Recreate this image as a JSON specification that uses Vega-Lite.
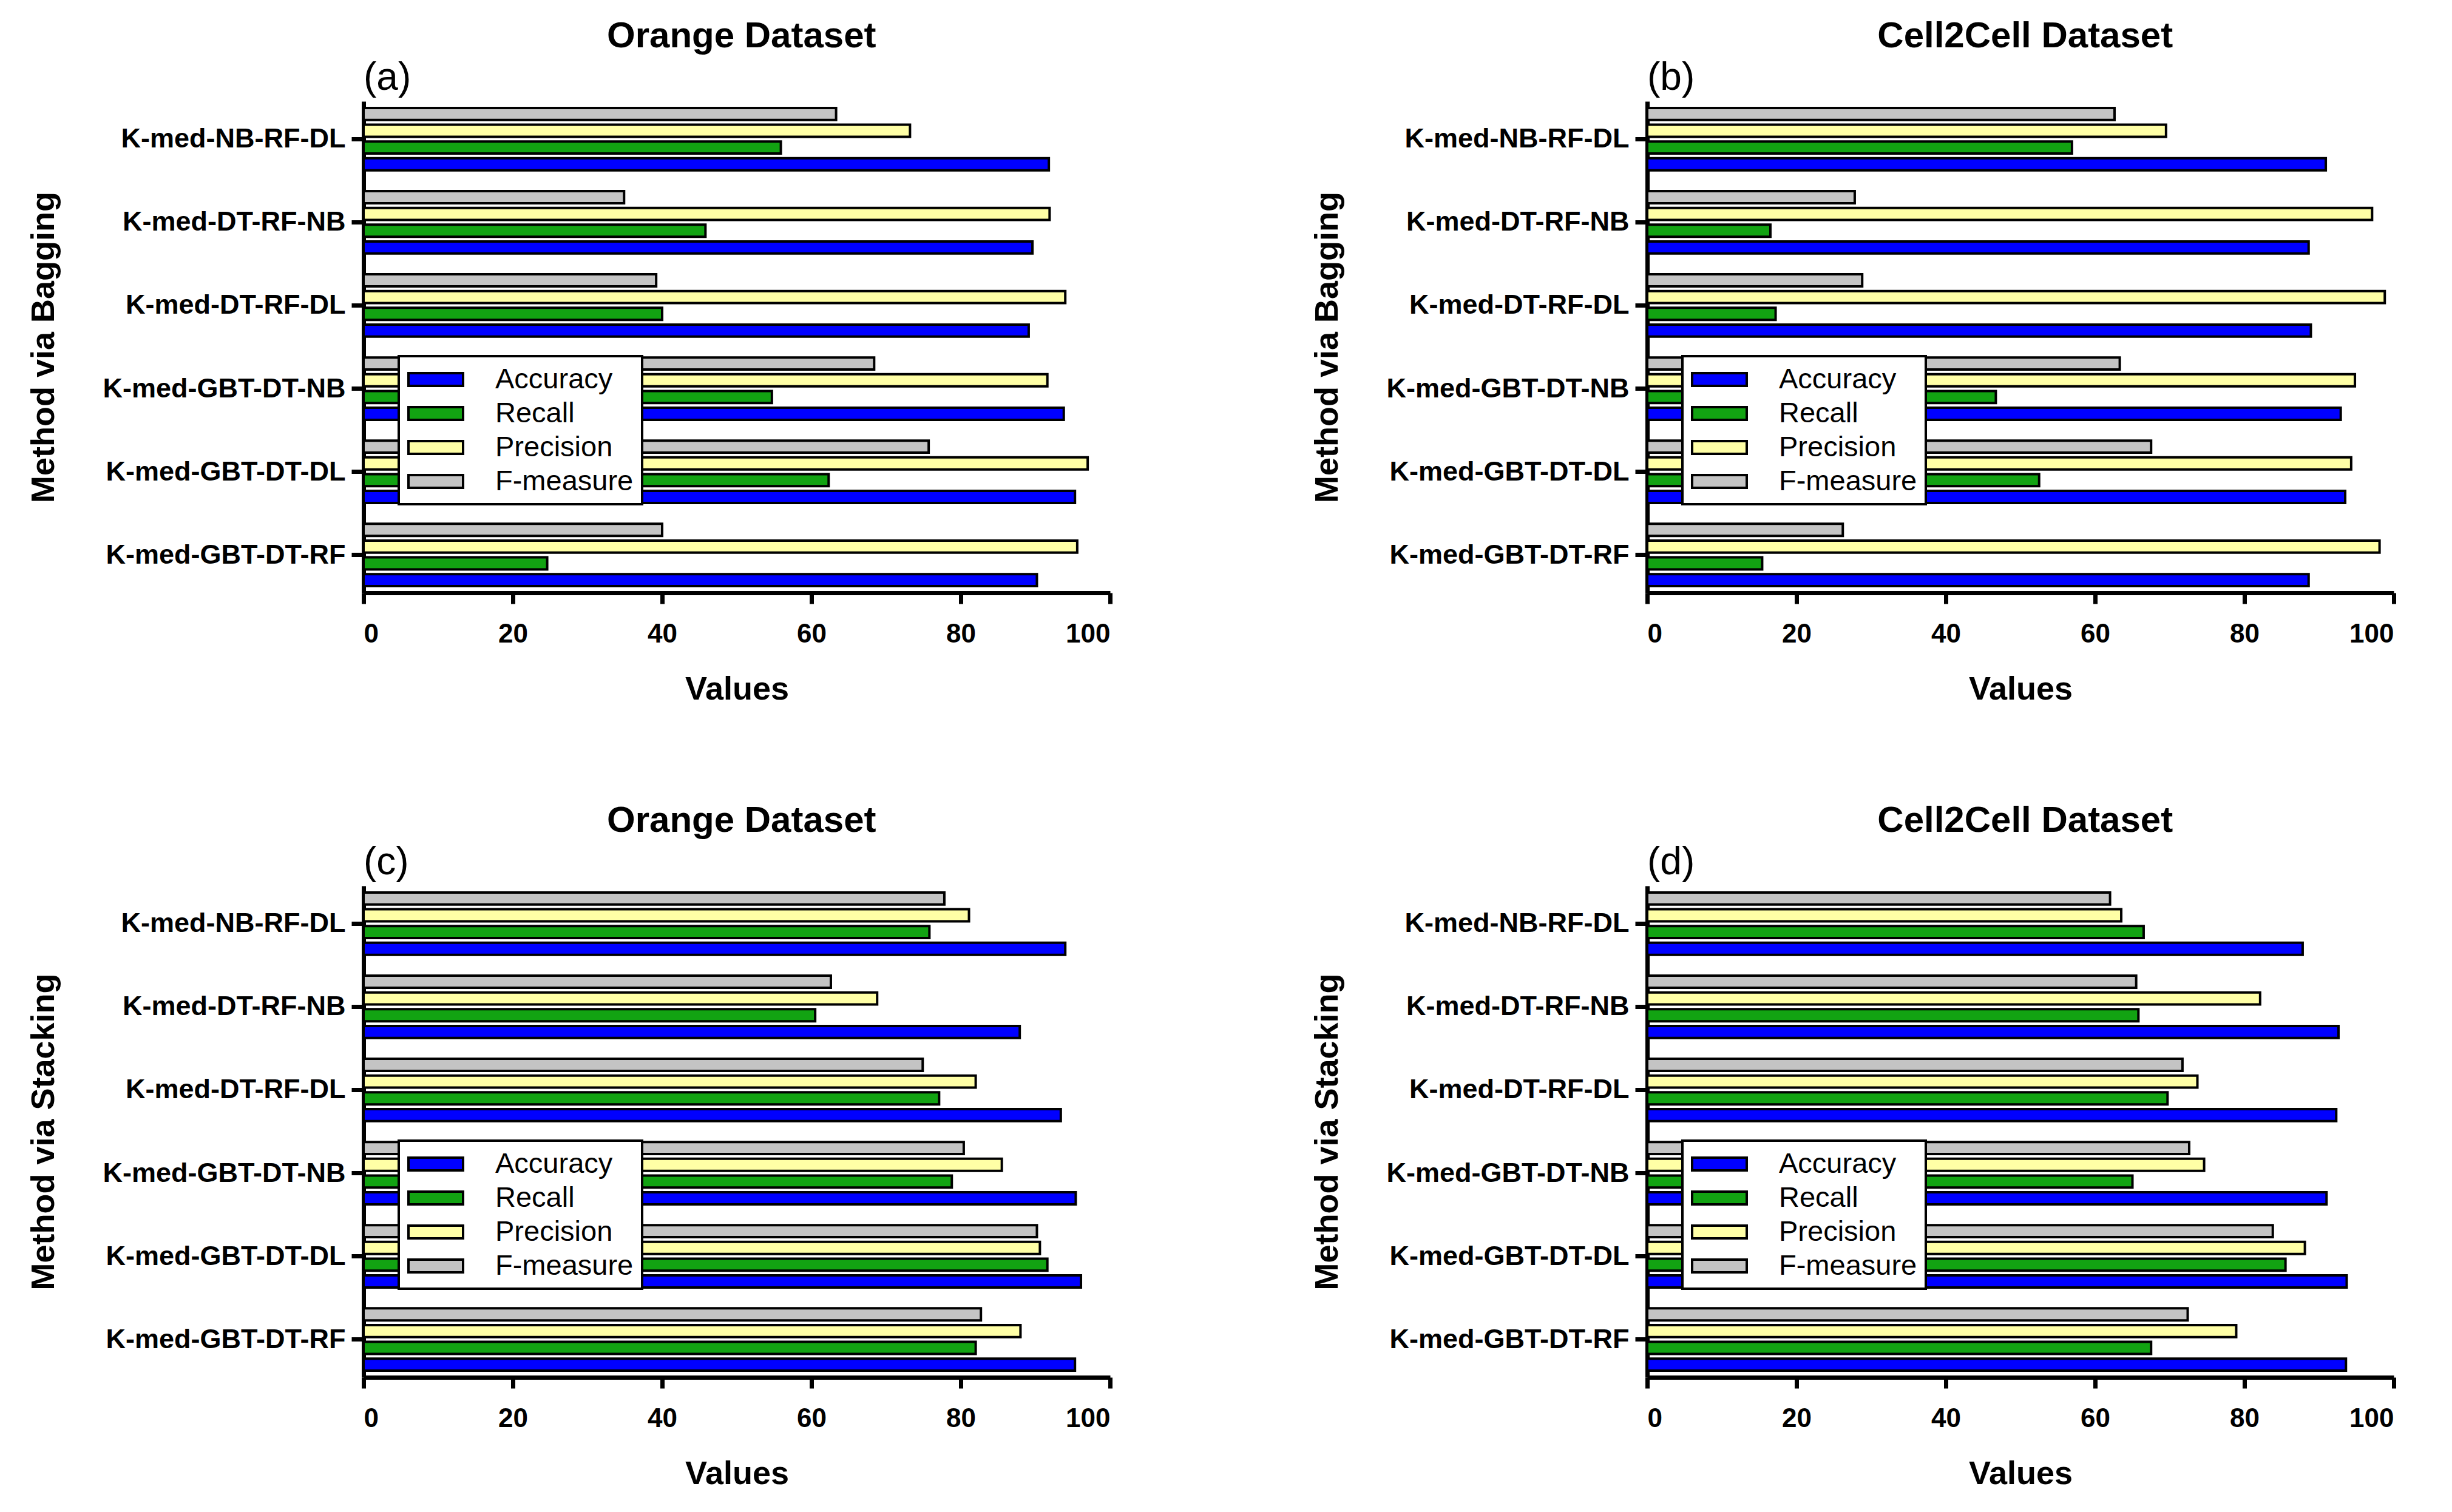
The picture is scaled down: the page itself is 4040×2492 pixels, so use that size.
{
  "$schema": "https://vega.github.io/schema/vega-lite/v6.json",
  "background": "white",
  "padding": {"left": 45, "top": 30, "right": 0, "bottom": 0},
  "datasets": {
    "a": [
      {"method": "K-med-NB-RF-DL", "metric": "Accuracy", "value": 91.8},
      {"method": "K-med-NB-RF-DL", "metric": "Recall", "value": 55.9},
      {"method": "K-med-NB-RF-DL", "metric": "Precision", "value": 73.2},
      {"method": "K-med-NB-RF-DL", "metric": "F-measure", "value": 63.3},
      {"method": "K-med-DT-RF-NB", "metric": "Accuracy", "value": 89.6},
      {"method": "K-med-DT-RF-NB", "metric": "Recall", "value": 45.8},
      {"method": "K-med-DT-RF-NB", "metric": "Precision", "value": 91.9},
      {"method": "K-med-DT-RF-NB", "metric": "F-measure", "value": 34.9},
      {"method": "K-med-DT-RF-DL", "metric": "Accuracy", "value": 89.1},
      {"method": "K-med-DT-RF-DL", "metric": "Recall", "value": 40.0},
      {"method": "K-med-DT-RF-DL", "metric": "Precision", "value": 94.0},
      {"method": "K-med-DT-RF-DL", "metric": "F-measure", "value": 39.2},
      {"method": "K-med-GBT-DT-NB", "metric": "Accuracy", "value": 93.8},
      {"method": "K-med-GBT-DT-NB", "metric": "Recall", "value": 54.7},
      {"method": "K-med-GBT-DT-NB", "metric": "Precision", "value": 91.6},
      {"method": "K-med-GBT-DT-NB", "metric": "F-measure", "value": 68.4},
      {"method": "K-med-GBT-DT-DL", "metric": "Accuracy", "value": 95.3},
      {"method": "K-med-GBT-DT-DL", "metric": "Recall", "value": 62.3},
      {"method": "K-med-GBT-DT-DL", "metric": "Precision", "value": 97.0},
      {"method": "K-med-GBT-DT-DL", "metric": "F-measure", "value": 75.7},
      {"method": "K-med-GBT-DT-RF", "metric": "Accuracy", "value": 90.2},
      {"method": "K-med-GBT-DT-RF", "metric": "Recall", "value": 24.6},
      {"method": "K-med-GBT-DT-RF", "metric": "Precision", "value": 95.6},
      {"method": "K-med-GBT-DT-RF", "metric": "F-measure", "value": 40.0}
    ],
    "b": [
      {"method": "K-med-NB-RF-DL", "metric": "Accuracy", "value": 90.9},
      {"method": "K-med-NB-RF-DL", "metric": "Recall", "value": 56.9},
      {"method": "K-med-NB-RF-DL", "metric": "Precision", "value": 69.5},
      {"method": "K-med-NB-RF-DL", "metric": "F-measure", "value": 62.6},
      {"method": "K-med-DT-RF-NB", "metric": "Accuracy", "value": 88.6},
      {"method": "K-med-DT-RF-NB", "metric": "Recall", "value": 16.5},
      {"method": "K-med-DT-RF-NB", "metric": "Precision", "value": 97.1},
      {"method": "K-med-DT-RF-NB", "metric": "F-measure", "value": 27.8},
      {"method": "K-med-DT-RF-DL", "metric": "Accuracy", "value": 88.9},
      {"method": "K-med-DT-RF-DL", "metric": "Recall", "value": 17.2},
      {"method": "K-med-DT-RF-DL", "metric": "Precision", "value": 98.8},
      {"method": "K-med-DT-RF-DL", "metric": "F-measure", "value": 28.8},
      {"method": "K-med-GBT-DT-NB", "metric": "Accuracy", "value": 92.9},
      {"method": "K-med-GBT-DT-NB", "metric": "Recall", "value": 46.7},
      {"method": "K-med-GBT-DT-NB", "metric": "Precision", "value": 94.8},
      {"method": "K-med-GBT-DT-NB", "metric": "F-measure", "value": 63.3},
      {"method": "K-med-GBT-DT-DL", "metric": "Accuracy", "value": 93.5},
      {"method": "K-med-GBT-DT-DL", "metric": "Recall", "value": 52.5},
      {"method": "K-med-GBT-DT-DL", "metric": "Precision", "value": 94.3},
      {"method": "K-med-GBT-DT-DL", "metric": "F-measure", "value": 67.5},
      {"method": "K-med-GBT-DT-RF", "metric": "Accuracy", "value": 88.6},
      {"method": "K-med-GBT-DT-RF", "metric": "Recall", "value": 15.4},
      {"method": "K-med-GBT-DT-RF", "metric": "Precision", "value": 98.1},
      {"method": "K-med-GBT-DT-RF", "metric": "F-measure", "value": 26.2}
    ],
    "c": [
      {"method": "K-med-NB-RF-DL", "metric": "Accuracy", "value": 94.0},
      {"method": "K-med-NB-RF-DL", "metric": "Recall", "value": 75.8},
      {"method": "K-med-NB-RF-DL", "metric": "Precision", "value": 81.1},
      {"method": "K-med-NB-RF-DL", "metric": "F-measure", "value": 77.8},
      {"method": "K-med-DT-RF-NB", "metric": "Accuracy", "value": 87.9},
      {"method": "K-med-DT-RF-NB", "metric": "Recall", "value": 60.5},
      {"method": "K-med-DT-RF-NB", "metric": "Precision", "value": 68.8},
      {"method": "K-med-DT-RF-NB", "metric": "F-measure", "value": 62.6},
      {"method": "K-med-DT-RF-DL", "metric": "Accuracy", "value": 93.4},
      {"method": "K-med-DT-RF-DL", "metric": "Recall", "value": 77.1},
      {"method": "K-med-DT-RF-DL", "metric": "Precision", "value": 82.0},
      {"method": "K-med-DT-RF-DL", "metric": "F-measure", "value": 74.9},
      {"method": "K-med-GBT-DT-NB", "metric": "Accuracy", "value": 95.4},
      {"method": "K-med-GBT-DT-NB", "metric": "Recall", "value": 78.8},
      {"method": "K-med-GBT-DT-NB", "metric": "Precision", "value": 85.5},
      {"method": "K-med-GBT-DT-NB", "metric": "F-measure", "value": 80.4},
      {"method": "K-med-GBT-DT-DL", "metric": "Accuracy", "value": 96.1},
      {"method": "K-med-GBT-DT-DL", "metric": "Recall", "value": 91.6},
      {"method": "K-med-GBT-DT-DL", "metric": "Precision", "value": 90.6},
      {"method": "K-med-GBT-DT-DL", "metric": "F-measure", "value": 90.2},
      {"method": "K-med-GBT-DT-RF", "metric": "Accuracy", "value": 95.3},
      {"method": "K-med-GBT-DT-RF", "metric": "Recall", "value": 82.0},
      {"method": "K-med-GBT-DT-RF", "metric": "Precision", "value": 88.0},
      {"method": "K-med-GBT-DT-RF", "metric": "F-measure", "value": 82.7}
    ],
    "d": [
      {"method": "K-med-NB-RF-DL", "metric": "Accuracy", "value": 87.8},
      {"method": "K-med-NB-RF-DL", "metric": "Recall", "value": 66.5},
      {"method": "K-med-NB-RF-DL", "metric": "Precision", "value": 63.5},
      {"method": "K-med-NB-RF-DL", "metric": "F-measure", "value": 62.0},
      {"method": "K-med-DT-RF-NB", "metric": "Accuracy", "value": 92.6},
      {"method": "K-med-DT-RF-NB", "metric": "Recall", "value": 65.8},
      {"method": "K-med-DT-RF-NB", "metric": "Precision", "value": 82.1},
      {"method": "K-med-DT-RF-NB", "metric": "F-measure", "value": 65.5},
      {"method": "K-med-DT-RF-DL", "metric": "Accuracy", "value": 92.3},
      {"method": "K-med-DT-RF-DL", "metric": "Recall", "value": 69.7},
      {"method": "K-med-DT-RF-DL", "metric": "Precision", "value": 73.7},
      {"method": "K-med-DT-RF-DL", "metric": "F-measure", "value": 71.7},
      {"method": "K-med-GBT-DT-NB", "metric": "Accuracy", "value": 91.0},
      {"method": "K-med-GBT-DT-NB", "metric": "Recall", "value": 65.0},
      {"method": "K-med-GBT-DT-NB", "metric": "Precision", "value": 74.6},
      {"method": "K-med-GBT-DT-NB", "metric": "F-measure", "value": 72.6},
      {"method": "K-med-GBT-DT-DL", "metric": "Accuracy", "value": 93.7},
      {"method": "K-med-GBT-DT-DL", "metric": "Recall", "value": 85.5},
      {"method": "K-med-GBT-DT-DL", "metric": "Precision", "value": 88.1},
      {"method": "K-med-GBT-DT-DL", "metric": "F-measure", "value": 83.8},
      {"method": "K-med-GBT-DT-RF", "metric": "Accuracy", "value": 93.6},
      {"method": "K-med-GBT-DT-RF", "metric": "Recall", "value": 67.5},
      {"method": "K-med-GBT-DT-RF", "metric": "Precision", "value": 78.9},
      {"method": "K-med-GBT-DT-RF", "metric": "F-measure", "value": 72.4}
    ]
  },
  "columns": 2,
  "spacing": {"row": 160, "column": 327},
  "resolve": {"legend": {"color": "independent"}},
  "concat": [
    {
      "title": {"text": "Orange Dataset"},
      "vconcat": [{
        "title": {"text": "(a)", "anchor": "start", "frame": "group", "dx": 0, "fontWeight": "normal", "fontSize": 64},
        "data": {"name": "a"},
        "width": 1230, "height": 810,
        "mark": {"type": "bar", "stroke": "black", "strokeWidth": 4},
        "encoding": {
          "y": {"field": "method", "type": "nominal", "sort": ["K-med-NB-RF-DL", "K-med-DT-RF-NB", "K-med-DT-RF-DL", "K-med-GBT-DT-NB", "K-med-GBT-DT-DL", "K-med-GBT-DT-RF"], "title": "Method via Bagging", "scale": {"paddingInner": 0.21, "paddingOuter": 0.06}},
          "yOffset": {"field": "metric", "type": "nominal", "sort": ["F-measure", "Precision", "Recall", "Accuracy"], "scale": {"paddingInner": 0.28, "paddingOuter": 0.1}},
          "x": {"field": "value", "type": "quantitative", "title": "Values", "scale": {"domain": [0, 100], "nice": false}, "axis": {"values": [0, 20, 40, 60, 80, 100]}},
          "color": {"field": "metric", "type": "nominal", "scale": {"domain": ["Accuracy", "Recall", "Precision", "F-measure"], "range": ["#0000ff", "#12a312", "#ffffa6", "#c4c4c4"]}, "legend": {}}
        }
      }]
    },
    {
      "title": {"text": "Cell2Cell Dataset"},
      "vconcat": [{
        "title": {"text": "(b)", "anchor": "start", "frame": "group", "dx": 0, "fontWeight": "normal", "fontSize": 64},
        "data": {"name": "b"},
        "width": 1230, "height": 810,
        "mark": {"type": "bar", "stroke": "black", "strokeWidth": 4},
        "encoding": {
          "y": {"field": "method", "type": "nominal", "sort": ["K-med-NB-RF-DL", "K-med-DT-RF-NB", "K-med-DT-RF-DL", "K-med-GBT-DT-NB", "K-med-GBT-DT-DL", "K-med-GBT-DT-RF"], "title": "Method via Bagging", "scale": {"paddingInner": 0.21, "paddingOuter": 0.06}},
          "yOffset": {"field": "metric", "type": "nominal", "sort": ["F-measure", "Precision", "Recall", "Accuracy"], "scale": {"paddingInner": 0.28, "paddingOuter": 0.1}},
          "x": {"field": "value", "type": "quantitative", "title": "Values", "scale": {"domain": [0, 100], "nice": false}, "axis": {"values": [0, 20, 40, 60, 80, 100]}},
          "color": {"field": "metric", "type": "nominal", "scale": {"domain": ["Accuracy", "Recall", "Precision", "F-measure"], "range": ["#0000ff", "#12a312", "#ffffa6", "#c4c4c4"]}, "legend": {}}
        }
      }]
    },
    {
      "title": {"text": "Orange Dataset"},
      "vconcat": [{
        "title": {"text": "(c)", "anchor": "start", "frame": "group", "dx": 0, "fontWeight": "normal", "fontSize": 64},
        "data": {"name": "c"},
        "width": 1230, "height": 810,
        "mark": {"type": "bar", "stroke": "black", "strokeWidth": 4},
        "encoding": {
          "y": {"field": "method", "type": "nominal", "sort": ["K-med-NB-RF-DL", "K-med-DT-RF-NB", "K-med-DT-RF-DL", "K-med-GBT-DT-NB", "K-med-GBT-DT-DL", "K-med-GBT-DT-RF"], "title": "Method via Stacking", "scale": {"paddingInner": 0.21, "paddingOuter": 0.06}},
          "yOffset": {"field": "metric", "type": "nominal", "sort": ["F-measure", "Precision", "Recall", "Accuracy"], "scale": {"paddingInner": 0.28, "paddingOuter": 0.1}},
          "x": {"field": "value", "type": "quantitative", "title": "Values", "scale": {"domain": [0, 100], "nice": false}, "axis": {"values": [0, 20, 40, 60, 80, 100]}},
          "color": {"field": "metric", "type": "nominal", "scale": {"domain": ["Accuracy", "Recall", "Precision", "F-measure"], "range": ["#0000ff", "#12a312", "#ffffa6", "#c4c4c4"]}, "legend": {}}
        }
      }]
    },
    {
      "title": {"text": "Cell2Cell Dataset"},
      "vconcat": [{
        "title": {"text": "(d)", "anchor": "start", "frame": "group", "dx": 0, "fontWeight": "normal", "fontSize": 64},
        "data": {"name": "d"},
        "width": 1230, "height": 810,
        "mark": {"type": "bar", "stroke": "black", "strokeWidth": 4},
        "encoding": {
          "y": {"field": "method", "type": "nominal", "sort": ["K-med-NB-RF-DL", "K-med-DT-RF-NB", "K-med-DT-RF-DL", "K-med-GBT-DT-NB", "K-med-GBT-DT-DL", "K-med-GBT-DT-RF"], "title": "Method via Stacking", "scale": {"paddingInner": 0.21, "paddingOuter": 0.06}},
          "yOffset": {"field": "metric", "type": "nominal", "sort": ["F-measure", "Precision", "Recall", "Accuracy"], "scale": {"paddingInner": 0.28, "paddingOuter": 0.1}},
          "x": {"field": "value", "type": "quantitative", "title": "Values", "scale": {"domain": [0, 100], "nice": false}, "axis": {"values": [0, 20, 40, 60, 80, 100]}},
          "color": {"field": "metric", "type": "nominal", "scale": {"domain": ["Accuracy", "Recall", "Precision", "F-measure"], "range": ["#0000ff", "#12a312", "#ffffa6", "#c4c4c4"]}, "legend": {}}
        }
      }]
    }
  ],
  "config": {
    "font": "Liberation Sans",
    "view": {"stroke": null},
    "title": {"fontSize": 60, "fontWeight": "bold", "color": "black", "anchor": "middle", "frame": "bounds", "dx": 283, "offset": 6},
    "axis": {"grid": false, "domainColor": "black", "domainWidth": 7, "tickColor": "black", "tickWidth": 7, "labelColor": "black", "titleColor": "black", "labelFontWeight": "bold", "titleFontWeight": "bold", "labelFont": "Liberation Sans", "titleFont": "Liberation Sans", "labelLimit": 1000},
    "axisX": {"labelFontSize": 44, "tickSize": 18, "labelPadding": 28, "titleFontSize": 54, "titlePadding": 42},
    "axisY": {"labelFontSize": 45, "tickSize": 20, "labelPadding": 10, "titleFontSize": 54, "titleX": -500, "titleY": 405},
    "legend": {"orient": "none", "legendX": 58, "legendY": 420, "title": null, "fillColor": "white", "strokeColor": "black", "strokeWidth": 4, "padding": 14, "labelFontSize": 47, "labelFont": "Liberation Sans", "labelColor": "black", "labelLimit": 1000, "labelExpr": "datum.label + '\u00a0\u00a0'", "symbolType": "M-1,-0.47H3V0.47H-1Z", "symbolSize": 2025, "symbolStrokeColor": "black", "symbolStrokeWidth": 4, "symbolOpacity": 1, "labelOffset": 96, "rowPadding": 8}
  }
}
